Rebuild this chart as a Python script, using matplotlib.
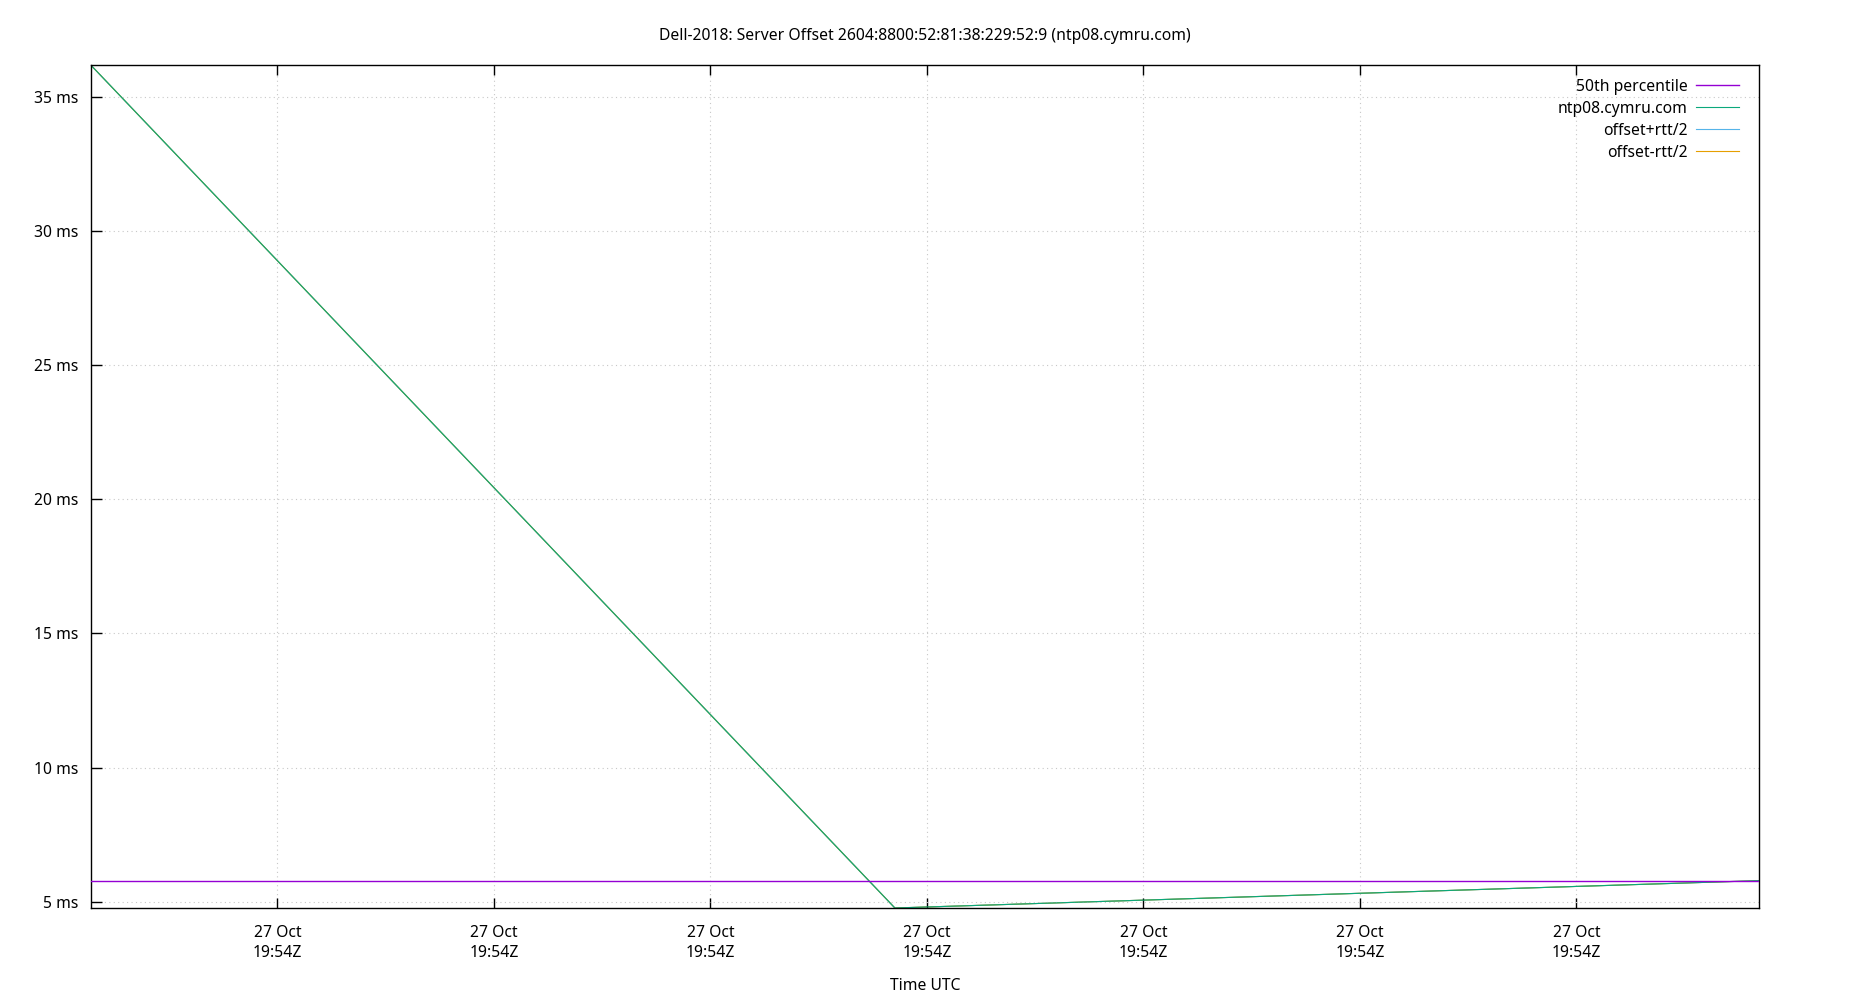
from datetime import datetime

import matplotlib
matplotlib.use("Agg")
import matplotlib.pyplot as plt
import matplotlib.dates as mdates

plt.rcParams['font.family'] = ['Noto Sans', 'DejaVu Sans']
plt.rcParams['font.size'] = 11.3

# samples (time, offset in ms, rtt in ms)
times = [
    datetime(2018, 10, 27, 19, 54, 0, 695000),
    datetime(2018, 10, 27, 19, 54, 19, 260000),
    datetime(2018, 10, 27, 19, 54, 39, 215000),
]
offset_ms = [36.19, 4.76, 5.78]
rtt_ms = [0.0, 0.0, 0.0]
p50_ms = 5.78

x_ticks = [datetime(2018, 10, 27, 19, 54, s) for s in (5, 10, 15, 20, 25, 30, 35)]
y_ticks = [5, 10, 15, 20, 25, 30, 35]
y_tick_labels = ["%d ms" % v for v in y_ticks]

title = "Dell-2018: Server Offset 2604:8800:52:81:38:229:52:9 (ntp08.cymru.com)"

fig = plt.figure(figsize=(18.5, 10), dpi=100)
ax = fig.add_axes([0.0492, 0.092, 0.9016, 0.8427])

plus = [o + r / 2 for o, r in zip(offset_ms, rtt_ms)]
minus = [o - r / 2 for o, r in zip(offset_ms, rtt_ms)]

ax.axhline(p50_ms, color='#9400d3', lw=1.0, label='50th percentile', zorder=3)
ax.plot(times, plus, color='#56b4e9', lw=0.8, label='offset+rtt/2', zorder=1)
ax.plot(times, minus, color='#e69f00', lw=0.8, label='offset-rtt/2', zorder=1)
ax.plot(times, offset_ms, color='#0aa87c', lw=0.8, label='ntp08.cymru.com', zorder=2)

ax.set_xlim(times[0], times[-1])
ax.set_ylim(min(minus), max(plus))

ax.set_xticks(x_ticks)
ax.xaxis.set_major_formatter(mdates.DateFormatter('%d %b\n%H:%MZ'))
ax.set_yticks(y_ticks)
ax.set_yticklabels(y_tick_labels)

ax.tick_params(axis='x', direction='in', length=7, width=1, top=True, pad=12)
ax.tick_params(axis='y', direction='in', length=8, width=1, right=False, pad=9)
for lbl in ax.get_xticklabels():
    lbl.set_linespacing(1.35)

ax.grid(True, color='#c8c8c8', linestyle=(0, (1, 3)), lw=0.8)
for s in ax.spines.values():
    s.set_linewidth(1.0)

handles, labels = ax.get_legend_handles_labels()
order = [0, 3, 1, 2]
ax.legend([handles[i] for i in order], [labels[i] for i in order],
          loc='upper right', bbox_to_anchor=(0.9902, 0.9875),
          frameon=False, markerfirst=False,
          handlelength=2.8, handletextpad=0.5, labelspacing=0.38,
          borderaxespad=0, borderpad=0.2)

fig.text(0.5, 1 - 35.5 / 1000, title, ha='center', va='center')
fig.text(0.5, 1 - 986 / 1000, "Time UTC", ha='center', va='center')

fig.savefig("out.png", dpi=100)
